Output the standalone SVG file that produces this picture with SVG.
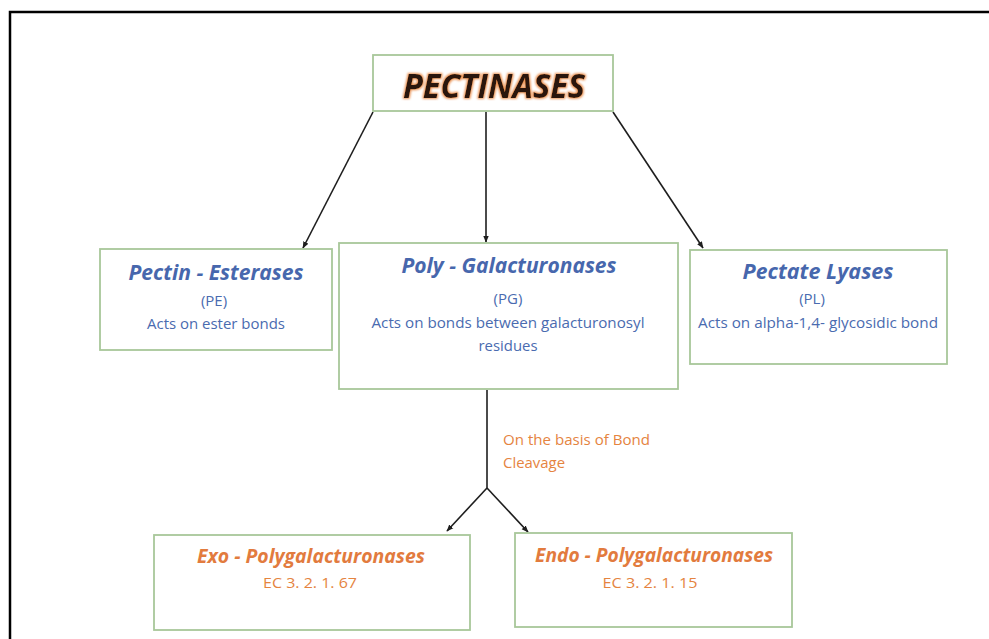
<svg xmlns="http://www.w3.org/2000/svg" width="989" height="639" viewBox="0 0 989 639">
<style>
.box{fill:#fff;stroke:#a8c79a;stroke-width:1.8}
.con{stroke:#1e1e1e;stroke-width:1.6;fill:none}
.t{font-family:"Open Sans","Liberation Sans",sans-serif;text-anchor:middle}
.bt{font-weight:bold;font-style:italic;fill:#4767ad;font-size:22px}
.bs{fill:#4a6bb0;font-size:15px}
.ot{font-weight:bold;font-style:italic;fill:#e27b3e;font-size:20px}
.os{fill:#e5843f;font-size:15px}
</style>
<defs>
<marker id="ah" viewBox="0 0 10 10" refX="9" refY="5" markerWidth="7" markerHeight="7" orient="auto" markerUnits="userSpaceOnUse">
<path d="M0,1 L10,5 L0,9 z" fill="#1e1e1e"/>
</marker>
<filter id="glow" x="-10%" y="-30%" width="120%" height="160%">
<feMorphology in="SourceAlpha" operator="dilate" radius="0.8" result="d"/>
<feGaussianBlur in="d" stdDeviation="1.2" result="b"/>
<feFlood flood-color="#e8823a" flood-opacity="0.85"/>
<feComposite in2="b" operator="in" result="g"/>
<feMerge><feMergeNode in="g"/><feMergeNode in="SourceGraphic"/></feMerge>
</filter>
</defs>
<rect width="989" height="639" fill="#fff"/>
<path d="M10,639 V12 H989" fill="none" stroke="#000" stroke-width="2.5"/>
<g id="connectors">
<line class="con" x1="373" y1="112" x2="303" y2="248" marker-end="url(#ah)"/>
<line class="con" x1="486" y1="112" x2="486" y2="242" marker-end="url(#ah)"/>
<line class="con" x1="613" y1="112" x2="703" y2="248" marker-end="url(#ah)"/>
<line class="con" x1="487" y1="390" x2="487" y2="488"/>
<line class="con" x1="487" y1="488" x2="447" y2="531" marker-end="url(#ah)"/>
<line class="con" x1="487" y1="488" x2="528" y2="532" marker-end="url(#ah)"/>
<text class="t os" x="503" y="445" textLength="147" lengthAdjust="spacingAndGlyphs" style="text-anchor:start">On the basis of Bond</text>
<text class="t os" x="503" y="468" style="text-anchor:start" textLength="62" lengthAdjust="spacingAndGlyphs">Cleavage</text>
</g>
<g id="pectinases">
<rect class="box" x="373" y="55" width="240" height="56"/>
<text class="t" x="494" y="98" font-size="34" font-weight="bold" font-style="italic" fill="#2a1207" filter="url(#glow)" textLength="182" lengthAdjust="spacingAndGlyphs">PECTINASES</text>
</g>
<g id="pectin-esterases">
<rect class="box" x="100" y="249" width="232" height="101"/>
<text class="t bt" x="216" y="280" textLength="175" lengthAdjust="spacingAndGlyphs">Pectin - Esterases</text>
<text class="t bs" x="214" y="306">(PE)</text>
<text class="t bs" x="216" y="329" textLength="138" lengthAdjust="spacingAndGlyphs">Acts on ester bonds</text>
</g>
<g id="poly-galacturonases">
<rect class="box" x="339" y="243" width="339" height="146"/>
<text class="t bt" x="509" y="273" textLength="215" lengthAdjust="spacingAndGlyphs">Poly - Galacturonases</text>
<text class="t bs" x="508" y="304">(PG)</text>
<text class="t bs" x="508" y="328" textLength="273" lengthAdjust="spacingAndGlyphs">Acts on bonds between galacturonosyl</text>
<text class="t bs" x="508" y="351" textLength="59" lengthAdjust="spacingAndGlyphs">residues</text>
</g>
<g id="pectate-lyases">
<rect class="box" x="690" y="250" width="257" height="114"/>
<text class="t bt" x="818" y="279" textLength="151" lengthAdjust="spacingAndGlyphs">Pectate Lyases</text>
<text class="t bs" x="812" y="304">(PL)</text>
<text class="t bs" x="818" y="328" textLength="240" lengthAdjust="spacingAndGlyphs">Acts on alpha-1,4- glycosidic bond</text>
</g>
<g id="exo-polygalacturonases">
<rect class="box" x="154" y="535" width="316" height="95"/>
<text class="t ot" x="311" y="563" textLength="228" lengthAdjust="spacingAndGlyphs">Exo - Polygalacturonases</text>
<text class="t os" x="310" y="588" textLength="94" lengthAdjust="spacingAndGlyphs">EC 3. 2. 1. 67</text>
</g>
<g id="endo-polygalacturonases">
<rect class="box" x="515" y="533" width="277" height="94"/>
<text class="t ot" x="654" y="562" textLength="238" lengthAdjust="spacingAndGlyphs">Endo - Polygalacturonases</text>
<text class="t os" x="650" y="588" textLength="95" lengthAdjust="spacingAndGlyphs">EC 3. 2. 1. 15</text>
</g>
</svg>
